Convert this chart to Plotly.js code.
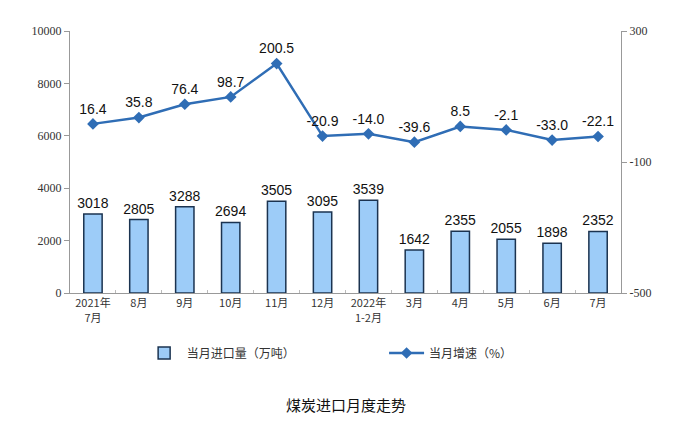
<!DOCTYPE html>
<html><head><meta charset="utf-8">
<script src="https://cdn.plot.ly/plotly-3.0.1.min.js"></script>
<style>html,body{margin:0;padding:0;background:#fff}#c{width:680px;height:426px}</style>
</head><body><div id="c"></div>
<script>
const categories = ["2021年<br>7月","8月","9月","10月","11月","12月","2022年<br>1-2月","3月","4月","5月","6月","7月"];
const importVolume = [3018,2805,3288,2694,3505,3095,3539,1642,2355,2055,1898,2352];
const growthRate = [16.4,35.8,76.4,98.7,200.5,-20.9,-14.0,-39.6,8.5,-2.1,-33.0,-22.1];
const leftTicks = [0,2000,4000,6000,8000,10000];
const rightTicks = [-500,-100,300];

const cjk = '"Noto Sans CJK SC", sans-serif';
const serif = '"Liberation Serif", "Times New Roman", serif';
const traces = [
  {type:'bar', x:categories, y:importVolume, name:'当月进口量（万吨）', legend:'legend',
   width:0.4, marker:{color:'#9DCCF8', line:{color:'#1B3350', width:1.5}},
   text:importVolume.map(String), textposition:'outside', cliponaxis:false, constraintext:'none',
   textfont:{family:'Arial, "Liberation Sans"', size:14, color:'#111'}, hoverinfo:'skip'},
  {type:'scatter', mode:'lines+markers+text', x:categories, y:growthRate, yaxis:'y2', legend:'legend2',
   name:'当月增速（%）', line:{color:'#2F6DB5', width:2.5},
   marker:{symbol:'diamond', size:9, color:'#2F6DB5'},
   text:growthRate.map(v=>v.toFixed(1)), textposition:'top center', cliponaxis:false,
   textfont:{family:'Arial, "Liberation Sans"', size:14, color:'#111'}, hoverinfo:'skip'}
];
const legendBase = {orientation:'h', yanchor:'middle', y:-0.229, bgcolor:'rgba(0,0,0,0)',
  font:{family:cjk, size:12, color:'#333'}, itemwidth:35};
const layout = {
  width:680, height:426, margin:{l:70, r:59, t:31, b:133},
  paper_bgcolor:'#fff', plot_bgcolor:'#fff', showlegend:true,
  xaxis:{type:'category', range:[-0.5,11.5], showline:true, linecolor:'#999', linewidth:1,
    ticks:'inside', tickson:'boundaries', ticklen:3, tickcolor:'#bbb',
    tickfont:{family:cjk, size:11, color:'#333'}, showgrid:false},
  yaxis:{range:[0,10000], tickvals:leftTicks, ticktext:leftTicks.map(String), showline:true, linecolor:'#999',
    ticks:'outside', ticklen:5, tickcolor:'#999', showgrid:false, zeroline:false,
    tickfont:{family:serif, size:12, color:'#333'}},
  yaxis2:{range:[-500,300], tickvals:rightTicks, ticktext:rightTicks.map(String), overlaying:'y', side:'right', showline:true,
    linecolor:'#999', ticks:'outside', ticklen:5, tickcolor:'#999', showgrid:false, zeroline:false,
    tickfont:{family:serif, size:12, color:'#333'}},
  legend:Object.assign({}, legendBase, {x:0.13, xanchor:'left'}),
  legend2:Object.assign({}, legendBase, {x:0.57, xanchor:'left'}),
  annotations:[{text:'煤炭进口月度走势', xref:'paper', yref:'paper', x:0.5, y:-0.427,
    xanchor:'center', yanchor:'middle', showarrow:false, font:{family:cjk, size:15, color:'#111'}}]
};
Plotly.newPlot('c', traces, layout, {displayModeBar:false, staticPlot:true});
</script></body></html>
